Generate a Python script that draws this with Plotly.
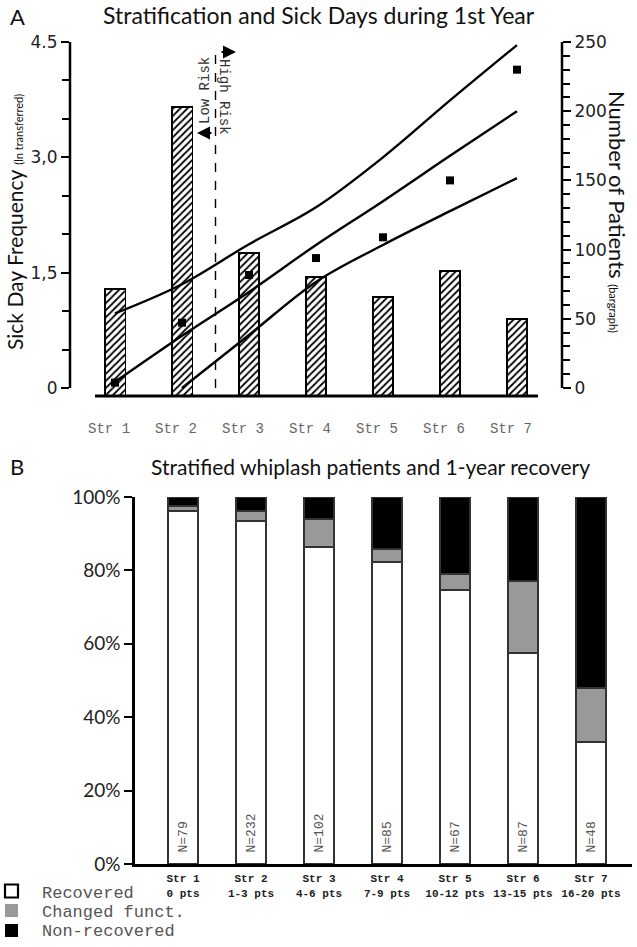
import plotly.graph_objects as go

# ---------------- data ----------------
strata = ["Str 1", "Str 2", "Str 3", "Str 4", "Str 5", "Str 6", "Str 7"]
patients = [71.5, 203, 97.5, 80, 66, 84.5, 50]          # bargraph (right axis)
sick_days = [0.07, 0.85, 1.47, 1.69, 1.96, 2.70, 4.14]   # squares (left axis)
fit_mid = [0.08, 0.68, 1.25, 1.86, 2.43, 3.02, 3.60]
fit_upper = [0.97, 1.35, 1.87, 2.35, 3.00, 3.74, 4.46]
fit_lower = [None, 0.00, 0.69, 1.38, 1.86, 2.30, 2.73]

left_tickvals = [0, 1.5, 3.0, 4.5]
left_ticktext = ["0", "1,5", "3,0", "4.5"]
right_tickvals = [0, 50, 100, 150, 200, 250]

strata_b = ["Str 1<br>0 pts", "Str 2<br>1-3 pts", "Str 3<br>4-6 pts", "Str 4<br>7-9 pts",
            "Str 5<br>10-12 pts", "Str 6<br>13-15 pts", "Str 7<br>16-20 pts"]
n_labels = ["N=79", "N=232", "N=102", "N=85", "N=67", "N=87", "N=48"]
recovered = [96.2, 93.5, 86.3, 82.4, 74.6, 57.5, 33.3]
changed = [1.3, 2.6, 7.8, 3.5, 4.5, 19.5, 14.6]
non_recovered = [2.5, 3.9, 5.9, 14.1, 20.9, 23.0, 52.1]
pct_ticks = [0, 20, 40, 60, 80, 100]
pct_text = ["0%", "20%", "40%", "60%", "80%", "100%"]

W, H = 637, 947
def px(x):
    return x / W
def py(y):
    return 1 - y / H

MONO = "Liberation Mono, Courier New, monospace"
SANS = "Lato, Open Sans, sans-serif"
VERD = "DejaVu Sans, Verdana, sans-serif"

xi = list(range(len(strata)))
bar_base = -5.78          # bars drawn from the offset x-axis line
bar_len = [v - bar_base for v in patients]

fig = go.Figure()

# ---- panel A ----
fig.add_trace(go.Bar(
    x=xi, y=bar_len, base=bar_base, width=0.31, xaxis="x", yaxis="y",
    marker=dict(color="white", line=dict(color="black", width=1.8),
                pattern=dict(shape="/", fgcolor="black", bgcolor="white", size=5, solidity=0.35)),
    showlegend=False, hoverinfo="skip"))
for vals in (fit_upper, fit_mid, fit_lower):
    fig.add_trace(go.Scatter(
        x=xi, y=vals, mode="lines", line=dict(color="black", width=2.4, shape="spline", smoothing=1.0),
        xaxis="x", yaxis="y2", showlegend=False, connectgaps=False))
fig.add_trace(go.Scatter(
    x=xi, y=sick_days, mode="markers", marker=dict(symbol="square", size=8, color="black"),
    xaxis="x", yaxis="y2", showlegend=False))

# ---- panel B ----
for name, vals, col in (("Recovered", recovered, "white"),
                        ("Changed funct.", changed, "#999999"),
                        ("Non-recovered", non_recovered, "black")):
    fig.add_trace(go.Bar(
        x=xi, y=vals, name=name, width=0.44, xaxis="x2", yaxis="y3",
        marker=dict(color=col, line=dict(color="#333333", width=2)),
        showlegend=False))

fig.update_layout(
    template="none",
    width=W, height=H, margin=dict(l=0, r=0, t=0, b=0, pad=0, autoexpand=False),
    paper_bgcolor="white", plot_bgcolor="white", barmode="stack", showlegend=False,
    xaxis=dict(domain=[px(70), px(562)], range=[-0.672, 6.672], tickmode="array",
               tickvals=xi, ticktext=strata, ticks="", showline=False, showgrid=False,
               zeroline=False, anchor="y", ticklabelstandoff=22, ticklabelshift=-6,
               automargin=False,
               tickfont=dict(family=MONO, size=14, color="#666666")),
    yaxis=dict(domain=[py(396), py(42)], range=[bar_base, 250], side="right", anchor="x",
               tickmode="array", tickvals=right_tickvals, ticks="outside", ticklen=8,
               tickwidth=2, tickcolor="black", showgrid=False, zeroline=False, showline=False,
               automargin=False,
               tickfont=dict(family=VERD, size=17, color="#222222"),
               minor=dict(tickmode="linear", tick0=0, dtick=10, ticks="outside", ticklen=7,
                          tickwidth=1.6, tickcolor="black", showgrid=False)),
    yaxis2=dict(range=[-0.104, 4.5], side="left", overlaying="y", anchor="x",
                tickmode="array", tickvals=left_tickvals, ticktext=left_ticktext,
                ticks="outside", ticklen=8, tickwidth=2, tickcolor="black",
                showgrid=False, zeroline=False, showline=False, automargin=False,
                tickfont=dict(family=VERD, size=17, color="#222222"),
                minor=dict(tickmode="linear", tick0=0, dtick=0.5, ticks="outside", ticklen=7,
                           tickwidth=1.6, tickcolor="black", showgrid=False)),
    xaxis2=dict(domain=[px(135), px(632)], range=[-0.706, 6.603], anchor="y3",
                tickmode="array", tickvals=xi, ticktext=["<b>%s</b>" % t for t in strata_b],
                ticks="", showline=True, linewidth=3, linecolor="black", showgrid=False,
                zeroline=False, ticklabelstandoff=2, automargin=False,
                tickfont=dict(family=MONO, size=11, color="#222222")),
    yaxis3=dict(domain=[py(864), py(497)], range=[0, 100], anchor="x2",
                tickmode="array", tickvals=pct_ticks, ticktext=pct_text, ticks="outside",
                ticklen=8, tickwidth=2, tickcolor="black", showline=True, linewidth=2.5,
                linecolor="black", showgrid=False, zeroline=False, automargin=False,
                tickfont=dict(family=SANS, size=19, color="#222222")),
)

shapes = [
    # panel A axis lines
    dict(type="line", xref="paper", yref="y2", x0=px(70), x1=px(70), y0=0, y1=4.5,
         line=dict(color="black", width=2.5)),
    dict(type="line", xref="paper", yref="y", x0=px(562), x1=px(562), y0=0, y1=250,
         line=dict(color="black", width=2.5)),
    dict(type="line", xref="paper", yref="paper", x0=px(95), x1=px(538), y0=py(396), y1=py(396),
         line=dict(color="black", width=3)),
    # risk divider
    dict(type="line", xref="x", yref="y2", x0=1.5, x1=1.5, y0=0, y1=4.4,
         line=dict(color="black", width=1.4, dash="dash")),
]
# legend squares
for yc, col in ((891, "white"), (910.5, "#999999"), (930.5, "black")):
    shapes.append(dict(type="rect", xref="paper", yref="paper", x0=px(5), x1=px(18),
                       y0=py(yc + 6.5), y1=py(yc - 6.5),
                       line=dict(color="black", width=2.2 if col == "white" else 0), fillcolor=col))


def ann(text, x, y, **kw):
    d = dict(text=text, x=x, y=y, xref="paper", yref="paper", showarrow=False,
             xanchor="center", yanchor="middle")
    d.update(kw)
    return d


annotations = [
    ann("A", px(17), py(17), font=dict(family=SANS, size=22, color="#111111")),
    ann("Stratification and Sick Days during 1st Year", px(319), py(15),
        font=dict(family=SANS, size=23, color="#111111")),
    ann("B", px(17), py(467), font=dict(family=SANS, size=22, color="#111111")),
    ann("Stratified whiplash patients and 1-year recovery", px(370), py(467),
        font=dict(family=SANS, size=21, color="#111111")),
    ann("Sick Day Frequency <span style='font-size:11px'>(ln transferred)</span>",
        px(15), py(222), textangle=-90, font=dict(family=SANS, size=21, color="#111111")),
    ann("Number of Patients <span style='font-size:11px'>(bargraph)</span>",
        px(617), py(212), textangle=90, font=dict(family=SANS, size=22, color="#111111")),
    ann("Low Risk", px(205), py(91), textangle=-90, font=dict(family=MONO, size=14, color="#333333")),
    ann("High Risk", px(224), py(97), textangle=90, font=dict(family=MONO, size=14, color="#333333")),
    dict(text="", x=px(236), y=py(52), ax=-16, ay=0, xref="paper", yref="paper",
         showarrow=True, arrowhead=2, arrowsize=1.3, arrowwidth=2, arrowcolor="black"),
    dict(text="", x=px(197), y=py(133), ax=16, ay=0, xref="paper", yref="paper",
         showarrow=True, arrowhead=2, arrowsize=1.3, arrowwidth=2, arrowcolor="black"),
]
for i, lab in enumerate(n_labels):
    annotations.append(dict(text=lab, x=i, y=py(855), xref="x2", yref="paper", showarrow=False,
                            textangle=-90, xanchor="center", yanchor="bottom",
                            font=dict(family=MONO, size=13, color="#555555")))
for yc, lab in ((893, "Recovered"), (912, "Changed funct."), (931, "Non-recovered")):
    annotations.append(ann(lab, px(40), py(yc), xanchor="left",
                           font=dict(family=MONO, size=17, color="#555555")))

fig.update_layout(shapes=shapes, annotations=annotations)
fig.write_html("out.html", config={"displayModeBar": False},
               post_script="document.body.style.margin='0px';")
